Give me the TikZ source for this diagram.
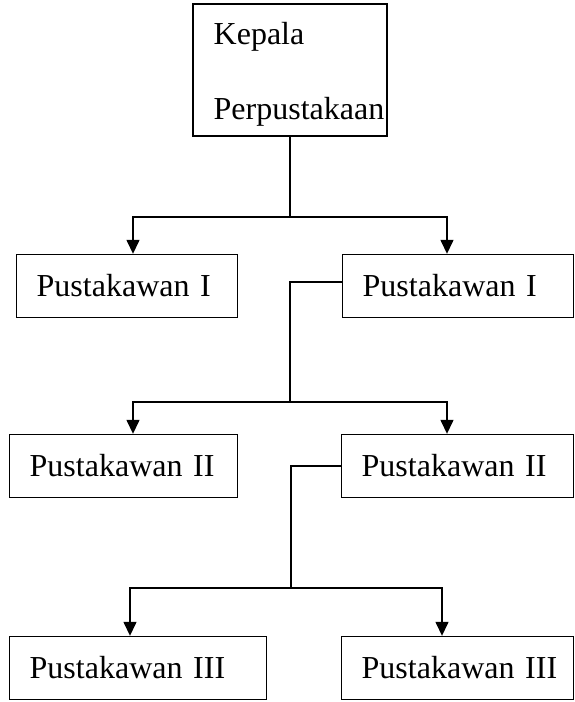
\documentclass[tikz,border=0pt]{standalone}
\usepackage{fontspec}
\setmainfont{Liberation Serif}
\usepackage{tikz}
\usetikzlibrary{arrows.meta}

\begin{document}
\begin{tikzpicture}[x=1pt,y=-1pt
	,line width=1.4pt
	,>={Triangle[width=13pt,length=14pt]}
	,font=\fontsize{32}{38}\selectfont]
  \tikzstyle{box}
  =[draw,anchor=west,align=left
  ,inner xsep=20pt,inner ysep=0pt
  ,minimum height=63pt]

  \useasboundingbox (0,0) rectangle (574,702);

  % kepala
  \node[draw,minimum width=194pt,minimum height=132pt](kepala) at (290,70) {};
  \node[anchor=west,align=left,inner sep=0pt](kepalatxt) at (213,74)
    {Kepala\\[37pt]Perpustakaan};

  % row I
  \node[box,text width=181pt](pI1) at (16,286) {Pustakawan I};
  \node[box,text width=191pt](pI2) at (342,286) {Pustakawan I};
  % row II
  \node[box,text width=188pt](pII1) at (9,466) {Pustakawan II};
  \node[box,text width=192pt](pII2) at (341,466) {Pustakawan II};
  % row III
  \node[box,text width=217pt](pIII1) at (9,668) {Pustakawan~III};
  \node[box,text width=192pt](pIII2) at (341,668) {Pustakawan~III};

  % kepala -> I
  \coordinate (j1) at (kepala.south |- 0,217);
  \draw (kepala.south) -- (j1);
  \draw[->] (j1) -| ([xshift=117pt]pI1.north west);
  \draw[->] (j1) -| ([xshift=105pt]pI2.north west);

  % I -> II
  \coordinate (j2) at (290,402);
  \draw ([yshift=4pt]pI2.west) -| (j2);
  \draw[->] (j2) -| ([xshift=124pt]pII1.north west);
  \draw[->] (j2) -| ([xshift=106pt]pII2.north west);

  % II -> III
  \coordinate (j3) at (291,588);
  \draw (pII2.west) -| (j3);
  \draw[->] (j3) -| ([xshift=121pt]pIII1.north west);
  \draw[->] (j3) -| ([xshift=101pt]pIII2.north west);
\end{tikzpicture}
\end{document}
